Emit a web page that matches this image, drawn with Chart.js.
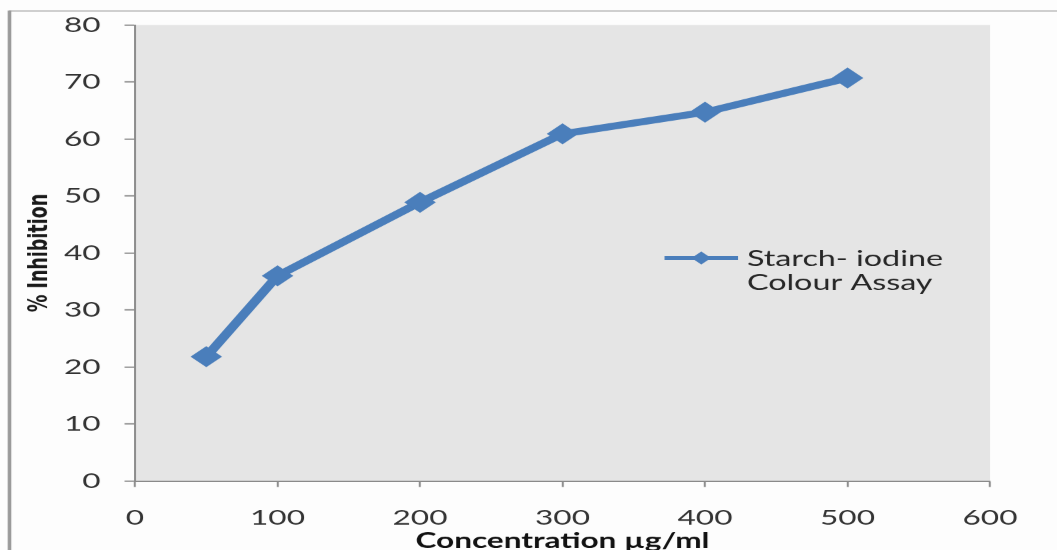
<!DOCTYPE html>
<html>
<head>
<meta charset="utf-8">
<title>% Inhibition vs Concentration</title>
<script src="https://cdn.jsdelivr.net/npm/chart.js@4/dist/chart.umd.min.js"></script>
<style>
  html, body { margin: 0; padding: 0; background: #fdfdfd; overflow: hidden; }
  #wrap { width: 705px; height: 550px; transform: scaleX(1.4993); transform-origin: 0 0; }
</style>
</head>
<body>
<div id="wrap"><canvas id="c" width="705" height="550"></canvas></div>
<script>
// Starch-iodine colour assay: % inhibition at each concentration (µg/ml)
const concentrations = [50, 100, 200, 300, 400, 500];
const inhibition = [21.8, 36.0, 48.9, 60.9, 64.7, 70.7];
const seriesLabel = ['Starch- iodine', 'Colour Assay'];
const xTicks = [0, 100, 200, 300, 400, 500, 600];
const yTicks = [0, 10, 20, 30, 40, 50, 60, 70, 80];

const BLUE = '#4a7ebb';
const AXIS = '#8a8a8a';

// Page frame, plot-area fill
const backdrop = {
  id: 'backdrop',
  beforeDraw(chart) {
    const { ctx, chartArea: a, width, height } = chart;
    ctx.save();
    ctx.fillStyle = '#fdfdfd';
    ctx.fillRect(0, 0, width, height);
    ctx.fillStyle = '#e5e5e5';
    ctx.fillRect(a.left, a.top, a.right - a.left, a.bottom - a.top);
    ctx.strokeStyle = '#b4b4b4';
    ctx.lineWidth = 1.2;
    ctx.beginPath();
    ctx.moveTo(6, 11);
    ctx.lineTo(width, 11);
    ctx.stroke();
    ctx.strokeStyle = '#9a9a9a';
    ctx.lineWidth = 2.4;
    ctx.beginPath();
    ctx.moveTo(6.3, 10.5);
    ctx.lineTo(6.3, height);
    ctx.stroke();
    ctx.restore();
  }
};

// Legend sitting inside the plot area, two-line label
const insideLegend = {
  id: 'insideLegend',
  afterDatasetsDraw(chart) {
    const { ctx } = chart;
    const ds = chart.data.datasets[0];
    const x0 = 443, x1 = 492, y = 258, r = 6.5;
    const xm = (x0 + x1) / 2;
    ctx.save();
    ctx.strokeStyle = ds.borderColor;
    ctx.lineWidth = 4;
    ctx.beginPath();
    ctx.moveTo(x0, y);
    ctx.lineTo(x1, y);
    ctx.stroke();
    ctx.fillStyle = ds.pointBackgroundColor;
    ctx.beginPath();
    ctx.moveTo(xm, y - r);
    ctx.lineTo(xm + r, y);
    ctx.lineTo(xm, y + r);
    ctx.lineTo(xm - r, y);
    ctx.closePath();
    ctx.fill();
    ctx.fillStyle = '#262626';
    ctx.font = '21.5px Lato';
    ctx.textAlign = 'left';
    ctx.textBaseline = 'alphabetic';
    ds.labelLines.forEach((line, i) => ctx.fillText(line, 498, 266 + i * 24));
    ctx.restore();
  }
};

new Chart(document.getElementById('c'), {
  type: 'line',
  data: {
    datasets: [{
      label: seriesLabel.join(' '),
      labelLines: seriesLabel,
      data: concentrations.map((c, i) => ({ x: c, y: inhibition[i] })),
      borderColor: BLUE,
      backgroundColor: BLUE,
      pointBackgroundColor: BLUE,
      pointBorderColor: BLUE,
      borderWidth: 7,
      pointStyle: 'rectRot',
      pointRadius: 10.5,
      pointBorderWidth: 0,
      tension: 0,
      fill: false
    }]
  },
  options: {
    responsive: false,
    animation: false,
    devicePixelRatio: 1.5,
    layout: { padding: { left: 0, right: 45, top: 25, bottom: 0 } },
    plugins: {
      legend: { display: false },
      tooltip: { enabled: false }
    },
    scales: {
      x: {
        type: 'linear',
        min: 0,
        max: 600,
        afterBuildTicks(scale) { scale.ticks = xTicks.map(v => ({ value: v })); },
        afterFit(scale) { scale.height = 69; },
        border: { display: true, color: AXIS, width: 1.3 },
        grid: { display: true, drawOnChartArea: false, drawTicks: true, tickLength: 6, tickColor: AXIS, tickWidth: 1.3 },
        ticks: { color: '#333333', font: { family: 'Lato', size: 21 }, padding: 18, maxRotation: 0 },
        title: {
          display: true,
          text: 'Concentration µg/ml',
          color: '#111111',
          font: { family: 'Lato', size: 21, weight: 'bold', lineHeight: 1 },
          padding: { top: 0, bottom: -1.5 }
        }
      },
      y: {
        type: 'linear',
        min: 0,
        max: 80,
        afterBuildTicks(scale) { scale.ticks = yTicks.map(v => ({ value: v })); },
        afterFit(scale) {
          scale.width = 90;
          scale.paddingTop = 0;
          scale.paddingBottom = 0;
        },
        border: { display: true, color: AXIS, width: 1.3 },
        grid: { display: true, drawOnChartArea: false, drawTicks: true, tickLength: 7, tickColor: AXIS, tickWidth: 1.3 },
        ticks: { color: '#333333', font: { family: 'Lato', size: 21 }, padding: 16 },
        title: {
          display: true,
          text: '% Inhibition',
          color: '#1a1a1a',
          font: { family: 'DejaVu Sans', size: 17.5, weight: 'bold', lineHeight: 1.2 },
          padding: { top: 16.5, bottom: 0 }
        }
      }
    }
  },
  plugins: [backdrop, insideLegend]
});
</script>
</body>
</html>
